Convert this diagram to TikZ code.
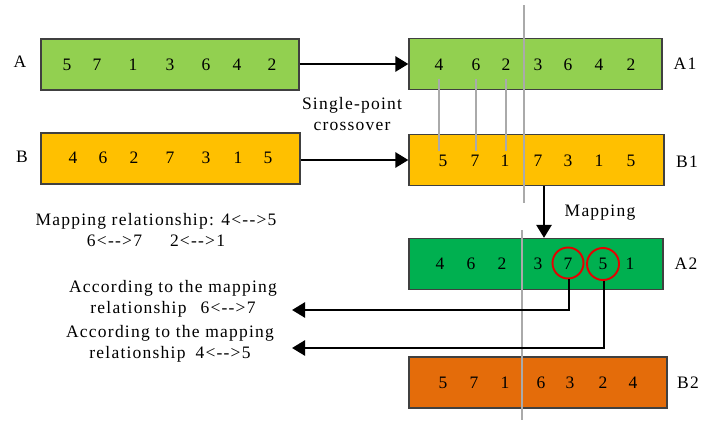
\documentclass[tikz,border=0pt]{standalone}
\usepackage{fontspec}
\setmainfont{Liberation Serif}[LetterSpace=7]
\usetikzlibrary{arrows.meta}

\definecolor{lightgreen}{RGB}{146,208,80}
\definecolor{amber}{RGB}{255,192,0}
\definecolor{deepgreen}{RGB}{0,176,80}
\definecolor{burnt}{RGB}{228,108,10}
\definecolor{boxedge}{RGB}{64,64,64}
\definecolor{cutgray}{RGB}{170,170,170}
\definecolor{ringred}{RGB}{230,0,0}

\tikzset{
  chrom/.style={draw=boxedge, line width=1.2pt, inner sep=0pt, minimum height=51pt},
  digit/.style={inner sep=0pt, minimum height=28pt},
  tag/.style={inner sep=0pt},
  note/.style={inner sep=0pt, align=center},
  flow/.style={line width=2.6pt, -{Triangle[length=13pt,width=15pt]}},
  cutline/.style={draw=cutgray, line width=1.8pt},
  pairline/.style={draw=cutgray, line width=1.6pt},
  ring/.style={draw=ringred, line width=1.9pt, circle, inner sep=0pt, minimum size=31pt},
}

\begin{document}
\begin{tikzpicture}[x=1pt, y=-1pt, font=\fontsize{17.5}{21.5}\selectfont]
\useasboundingbox (0,0) rectangle (702,423);

% parent chromosomes
\node[chrom, fill=lightgreen, minimum width=258pt] (A) at (170,64.5) {};
\node[chrom, fill=amber, minimum width=259pt] (B) at (170.5,158.5) {};
\node[tag] (lA) at (20,62) {A};
\node[tag] (lB) at (22,157) {B};
\foreach \v/\x [count=\i] in {5/67,7/97,1/133,3/170,6/206,4/237,2/272}
  \node[digit] (a-\i) at (\x,65) {\v};
\foreach \v/\x [count=\i] in {4/73,6/103,2/134,7/170,3/206,1/238,5/268}
  \node[digit] (b-\i) at (\x,158) {\v};

% offspring after crossover
\node[chrom, fill=lightgreen, minimum width=253pt] (A1) at (535.5,64) {};
\node[chrom, fill=amber, minimum width=255pt] (B1) at (536.5,160) {};
\node[tag] (lA1) at (685,64) {A1};
\node[tag] (lB1) at (687,162) {B1};
\foreach \v/\x [count=\i] in {4/439,6/476,2/506,3/538,6/568,4/599,2/631}
  \node[digit] (a1-\i) at (\x,65) {\v};
\foreach \v/\x [count=\i] in {5/443,7/475,1/505,7/538,3/568,1/599,5/631}
  \node[digit] (b1-\i) at (\x,161) {\v};

% offspring after mapping
\node[chrom, fill=deepgreen, minimum width=254pt] (A2) at (536,264) {};
\node[chrom, fill=burnt, minimum width=258pt] (B2) at (538,382.5) {};
\node[tag] (lA2) at (686,264) {A2};
\node[tag] (lB2) at (688,383) {B2};
\foreach \v/\x [count=\i] in {4/440,6/471,2/502,3/538,7/568,5/603,1/630}
  \node[digit] (a2-\i) at (\x,264) {\v};
\foreach \v/\x [count=\i] in {5/443,7/474,1/505,6/541,3/570,2/603,4/633}
  \node[digit] (b2-\i) at (\x,383) {\v};

% crossover point
\draw[cutline] (524,5) -- (524,203);
\draw[cutline] (522,230) -- (522,420);

% swapped gene pairs
\foreach \i in {1,2,3}
  \draw[pairline] (a1-\i.south) -- ([yshift=-4pt]a1-\i.south |- b1-\i.north);

% crossover arrows
\draw[flow] (A.east |- A1.west) -- (A1.west);
\draw[flow] (B.east |- B1.west) -- (B1.west);
\node[note] (cross) at (352,114) {Single-point\\crossover};

% mapping step
\coordinate (mapstart) at ([xshift=7.5pt]B1.south);
\draw[flow] (mapstart) -- (mapstart |- A2.north);
\node[tag] (maplbl) at (600,213) {Mapping};

\node[note] (rel) at (156,230) {Mapping relationship: 4<-{}->5\\6<-{}->7\hspace{28pt}2<-{}->1};

% conflict repair
\node[ring] (r7) at (568,263) {};
\node[ring, minimum size=32pt] (r5) at (603,264) {};
\coordinate (e7) at (292,310);
\coordinate (e5) at (292,348);
\draw[flow] ([xshift=1pt]r7.south) |- (e7);
\draw[flow] ([xshift=1pt]r5.south) |- (e5);

\node[note] (n1) at (173,299) {According to the mapping\\relationship\hspace{14pt}6<-{}->7};
\node[note] (n2) at (170,344) {According to the mapping\\relationship\hspace{10pt}4<-{}->5};
\end{tikzpicture}
\end{document}
